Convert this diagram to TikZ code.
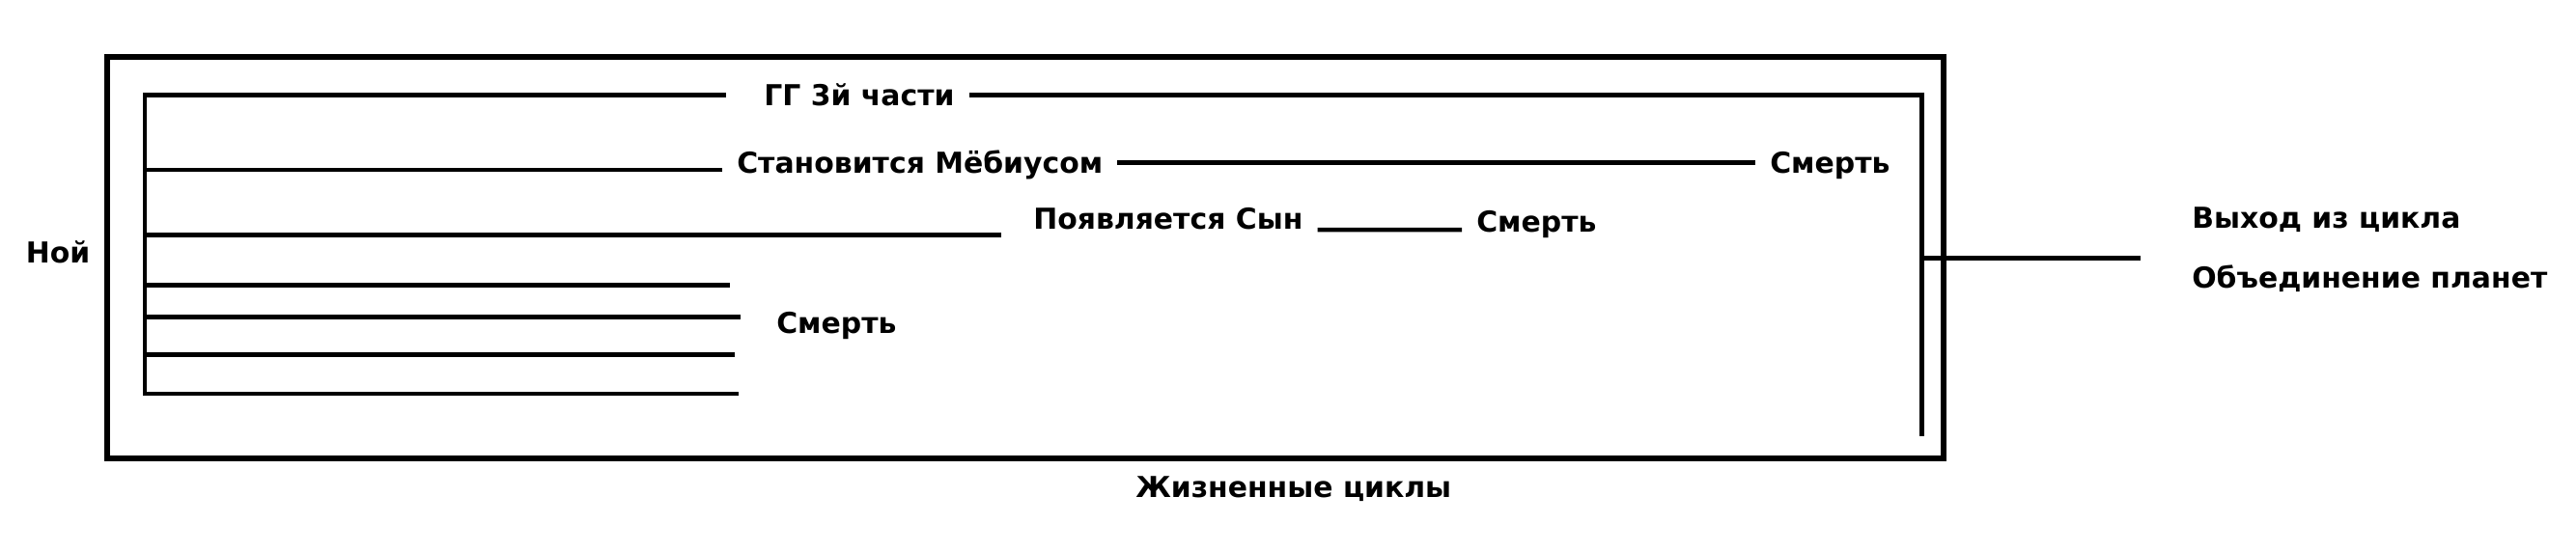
\documentclass[tikz,border=0pt]{standalone}
\usepackage{fontspec}
\setmainfont{DejaVu Sans}
\usepackage{tikz}
\usetikzlibrary{calc}
\begin{document}
\begin{tikzpicture}[line width=1.3pt,
    lbl/.style={anchor=west,inner xsep=0.13cm,inner ysep=0pt,text height=0.215cm,text depth=0pt,
      font=\fontsize{8.5}{10}\selectfont\bfseries},
    frame/.style={line width=1.6pt}]
              \useasboundingbox (0,0) rectangle (26.68,5.72);
              \draw[frame] (1.11,0.967) rectangle (20.13,5.129);
              \node[lbl](gg)at(7.76,4.735){ГГ 3й части};
              \node[lbl](mob)at(7.48,4.035){Становится Мёбиусом};
              \node[lbl](dmob)at(18.18,4.035){Смерть};
              \node[lbl](son)at(10.55,3.455){Появляется Сын};
              \node[lbl](dson)at(15.14,3.42){Смерть};
              \node[lbl](dlow)at(7.89,2.376){Смерть};
              \node[lbl](noi)at(0.115,3.10){Ной};
              \node[lbl](exit)at(22.55,3.46){Выход из цикла};
              \node[lbl](unite)at(22.55,2.843){Объединение планет};
              \node[lbl](cycles)at(11.61,0.672){Жизненные циклы};
              % spine
              \coordinate (s1) at (1.50,4.735);
              \coordinate (s2) at (1.50,3.962);
              \coordinate (s3) at (1.50,3.287);
              \coordinate (s4) at (1.50,2.765);
              \coordinate (s5) at (1.50,2.437);
              \coordinate (s6) at (1.50,2.047);
              \coordinate (s7) at (1.50,1.642);
              \coordinate (e4) at (7.56,2.765);
              \coordinate (e5) at (7.67,2.437);
              \coordinate (e6) at (7.61,2.047);
              \coordinate (e7) at (7.65,1.642);
              \draw[shorten >=0.24cm] (e7) -- (s7) -- (s1) -- (s1 -| gg.west);
              \draw (s2) -- (s2 -| mob.west);
              \draw (mob.east) -- (dmob.west);
              \draw[shorten >=0.18cm] (s3) -- (s3 -| son.west);
              \draw ([yshift=-0.117cm]son.east) -- ([yshift=-0.082cm]dson.west);
              \foreach \i in {4,5,6}
                \draw (s\i) -- (e\i);
              % right side
              \coordinate (c2) at (19.905,1.20);
              \draw (gg.east) -- (gg.east -| c2) -- (c2);
              \coordinate (x1) at (19.905,3.046);
              \coordinate (x2) at (22.17,3.046);
              \draw (x1) -- (x2);
            \end{tikzpicture}
\end{document}
